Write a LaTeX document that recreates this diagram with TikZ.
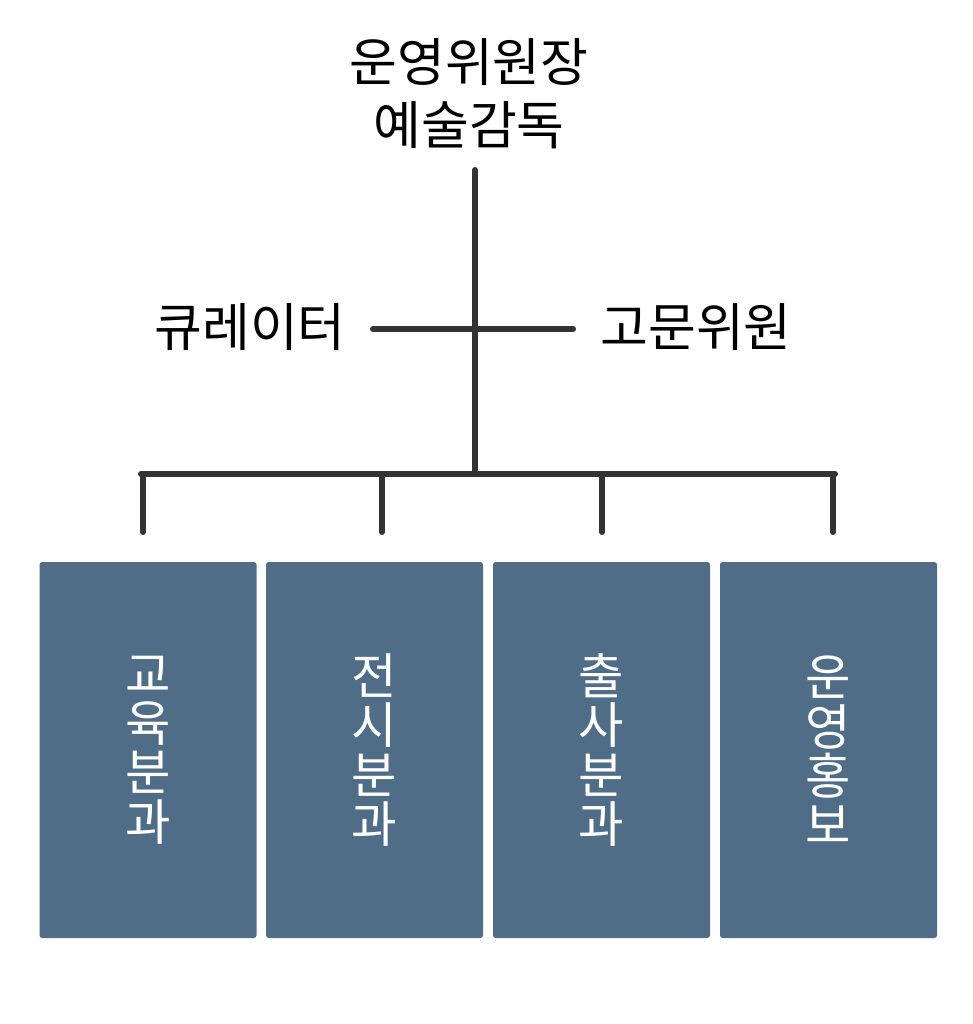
\documentclass[tikz,border=0pt]{standalone}
\usepackage{fontspec}
\setmainfont{Noto Sans CJK KR}
\definecolor{linegray}{HTML}{333333}
\definecolor{teamblue}{HTML}{4F6D87}

\begin{document}
\begin{tikzpicture}[x=0.75pt,y=-0.75pt]
\tikzset{every node/.style={inner sep=0pt,align=center,font=\fontsize{39}{47}\selectfont},
  link/.style={draw=linegray,line width=4.5pt,line cap=round},
  team/.style={fill=teamblue,rounded corners=2pt,minimum width=162.75pt,minimum height=282pt,
    text=white,font=\fontsize{37}{37}\selectfont}}
\useasboundingbox (0,0) rectangle (972,1024);

% 위쪽
\node (chief) at (469,94) {운영위원장\\예술감독};
\node (curator) at (250,327) {큐레이터};
\node (advisor) at (696,327) {고문위원};

\coordinate (top) at (475,170);
\coordinate (hub) at (475,474);
\coordinate (armL) at (373,329);
\coordinate (armR) at (573,329);
\coordinate (busL) at (141,474);
\coordinate (busR) at (835,474);

% 분과
\node[team] (edu) at (148,750) {교\\육\\분\\과};
\node[team] (exh) at (374.5,750) {전\\시\\분\\과};
\node[team] (pub) at (601.5,750) {출\\사\\분\\과};
\node[team] (ops) at (828.5,750) {운\\영\\홍\\보};

\draw[link] (top) -- (hub);
\draw[link] (armL) -- (armR);
\draw[link] (busL) -- (busR);
\foreach \t/\x in {edu/143,exh/382,pub/602,ops/833}
  \draw[link] (\x,474) -- (\x,532) coordinate (drop-\t);
\end{tikzpicture}
\end{document}
